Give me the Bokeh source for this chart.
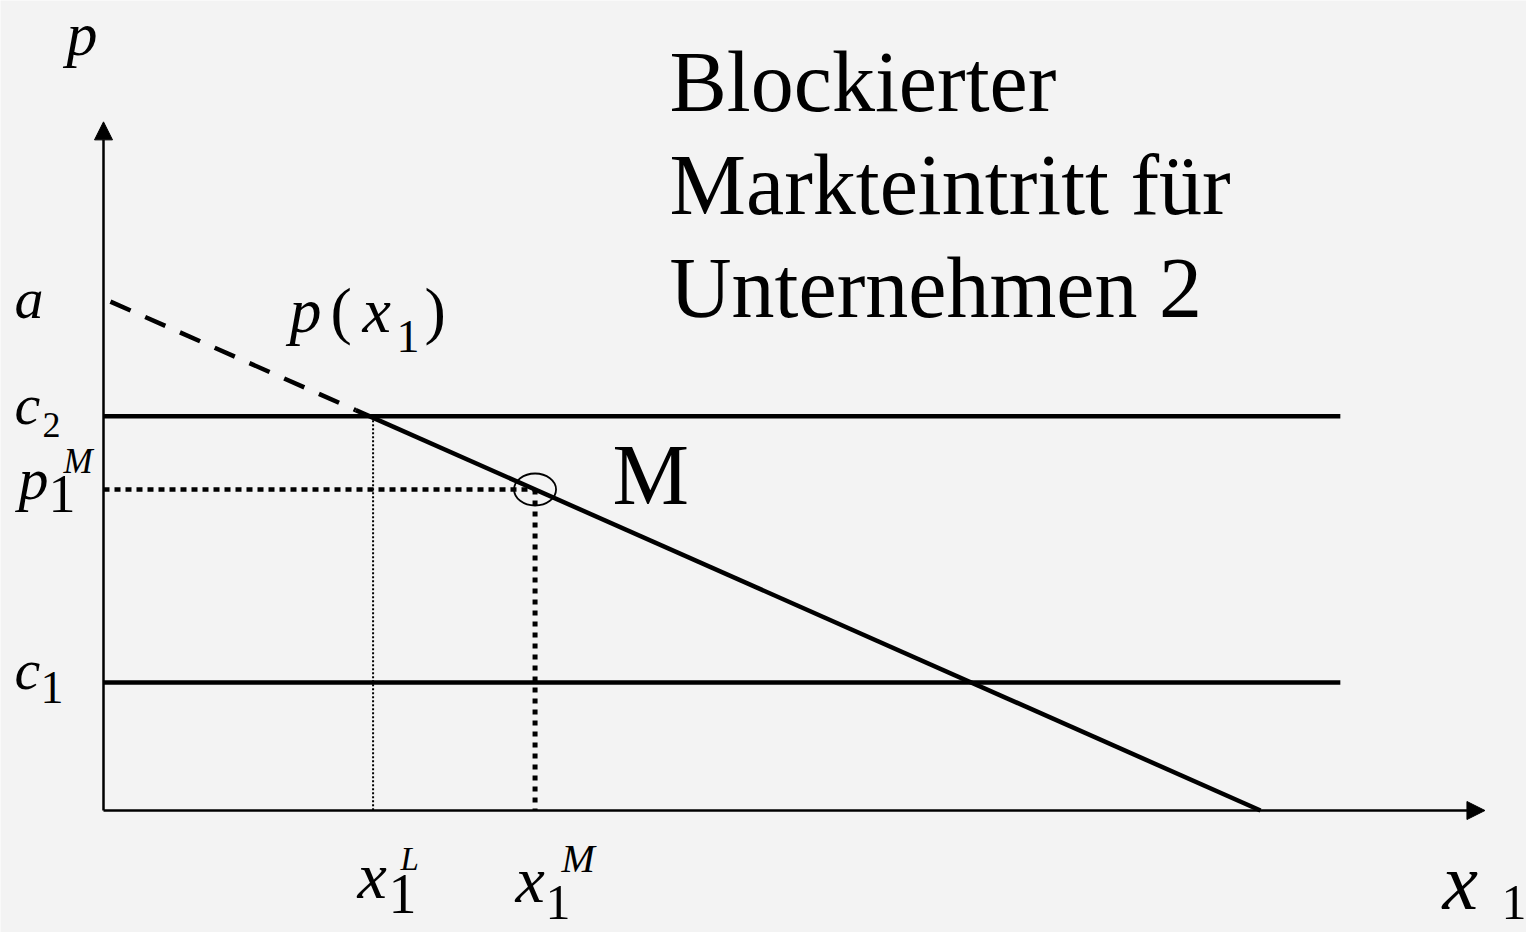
from bokeh.plotting import figure
from bokeh.models import Range1d, Arrow, NormalHead
from bokeh.core.properties import value
from bokeh.embed import file_html
from bokeh.resources import INLINE

# ---- data ----
a = 10.0          # price-axis intercept of demand p(x1) = a - b*x1
b = 1.0           # slope of demand
c1 = 2.5          # unit cost firm 1
c2 = 7.7          # unit cost firm 2
x_L = 2.33        # limit quantity
x_M = 3.73        # monopoly quantity
p_M = 6.27        # monopoly price
x_dash_end = 2.18 # end of dashed part of demand
x_cost_end = 10.69
x_axis_end = 11.94
y_axis_end = 13.45

# ---- pixel <-> data helpers (layout only) ----
SX, SY = 115.7, 51.2
OX, OY = 103, 810
def X(px):
    return (px - OX) / SX
def Y(py):
    return (OY - py) / SY

W, H = 1526, 932
BG = "#f3f3f3"
FONT = value("Liberation Serif")

p = figure(width=W, height=H, output_backend="svg", toolbar_location=None,
           x_range=Range1d(X(0), X(W)), y_range=Range1d(Y(H), Y(0)),
           x_axis_type=None, y_axis_type=None, min_border=0)
p.grid.visible = False
p.outline_line_color = None
p.background_fill_color = BG
p.border_fill_color = BG

# axes with arrows
def head():
    return NormalHead(size=18, fill_color="black", fill_alpha=1.0,
                      line_color="black", line_width=1)
p.add_layout(Arrow(end=head(), x_start=0, y_start=0, x_end=x_axis_end, y_end=0,
                   line_width=2.5, line_color="black"))
p.add_layout(Arrow(end=head(), x_start=0, y_start=0, x_end=0, y_end=y_axis_end,
                   line_width=2.5, line_color="black"))

# demand: dashed above c2, solid below
xd0 = 0.06
p.line([xd0, x_dash_end], [a - b * xd0, a - b * x_dash_end], line_width=4.5,
       line_color="black", line_dash="22 16")
p.line([x_dash_end, a / b], [a - b * x_dash_end, 0], line_width=4.5, line_color="black")

# cost lines
p.line([0, x_cost_end], [c2, c2], line_width=4.5, line_color="black")
p.line([0, x_cost_end], [c1, c1], line_width=4.5, line_color="black")

# dotted guides
p.line([0, x_M], [p_M, p_M], line_width=4.5, line_color="black", line_dash="6 5")
p.line([x_M, x_M], [p_M, 0], line_width=5, line_color="black", line_dash="5 6")
p.line([x_L, x_L], [c2, 0], line_width=2, line_color="black", line_dash="2 2")

# monopoly point circle
p.ellipse(x=[x_M], y=[p_M], width=42, height=32, width_units="screen",
          height_units="screen", fill_color=None, line_color="black", line_width=1.8)

K = 0.355  # baseline correction of the svg text renderer
def txt(px, py, s, size, italic=False):
    p.text(x=[X(px)], y=[Y(py - K * size)], text=[s], text_font=FONT,
           text_font_size=f"{size}px", text_font_style="italic" if italic else "normal",
           text_baseline="alphabetic", text_align="left", text_color="black")

# axis titles
txt(66, 56, "p", 62, True)
txt(1442, 910, "x", 80, True)
txt(1501, 920, "1", 50)

# title block
txt(669, 112, "Blockierter", 86)
txt(669, 215, "Markteintritt für", 86)
txt(669, 318, "Unternehmen 2", 86)

# y labels
txt(14, 319, "a", 58, True)
txt(14, 425, "c", 58, True)
txt(42, 437, "2", 36)
txt(18, 500, "p", 60, True)
txt(48, 513, "1", 54)
txt(63, 473, "M", 35, True)
txt(14, 690, "c", 58, True)
txt(40, 703, "1", 46)

# demand label
txt(289, 333, "p", 64, True)
txt(330, 333, "(", 64)
txt(362, 333, "x", 64, True)
txt(396, 352, "1", 46)
txt(424, 333, ")", 64)

# M
txt(612, 505, "M", 86)

# x labels
txt(357, 898, "x", 66, True)
txt(388, 913, "1", 56)
txt(400, 870, "L", 33, True)
txt(515, 902, "x", 66, True)
txt(545, 920, "1", 50)
txt(561, 872, "M", 40, True)

open("out.html", "w").write(file_html(p, INLINE))
